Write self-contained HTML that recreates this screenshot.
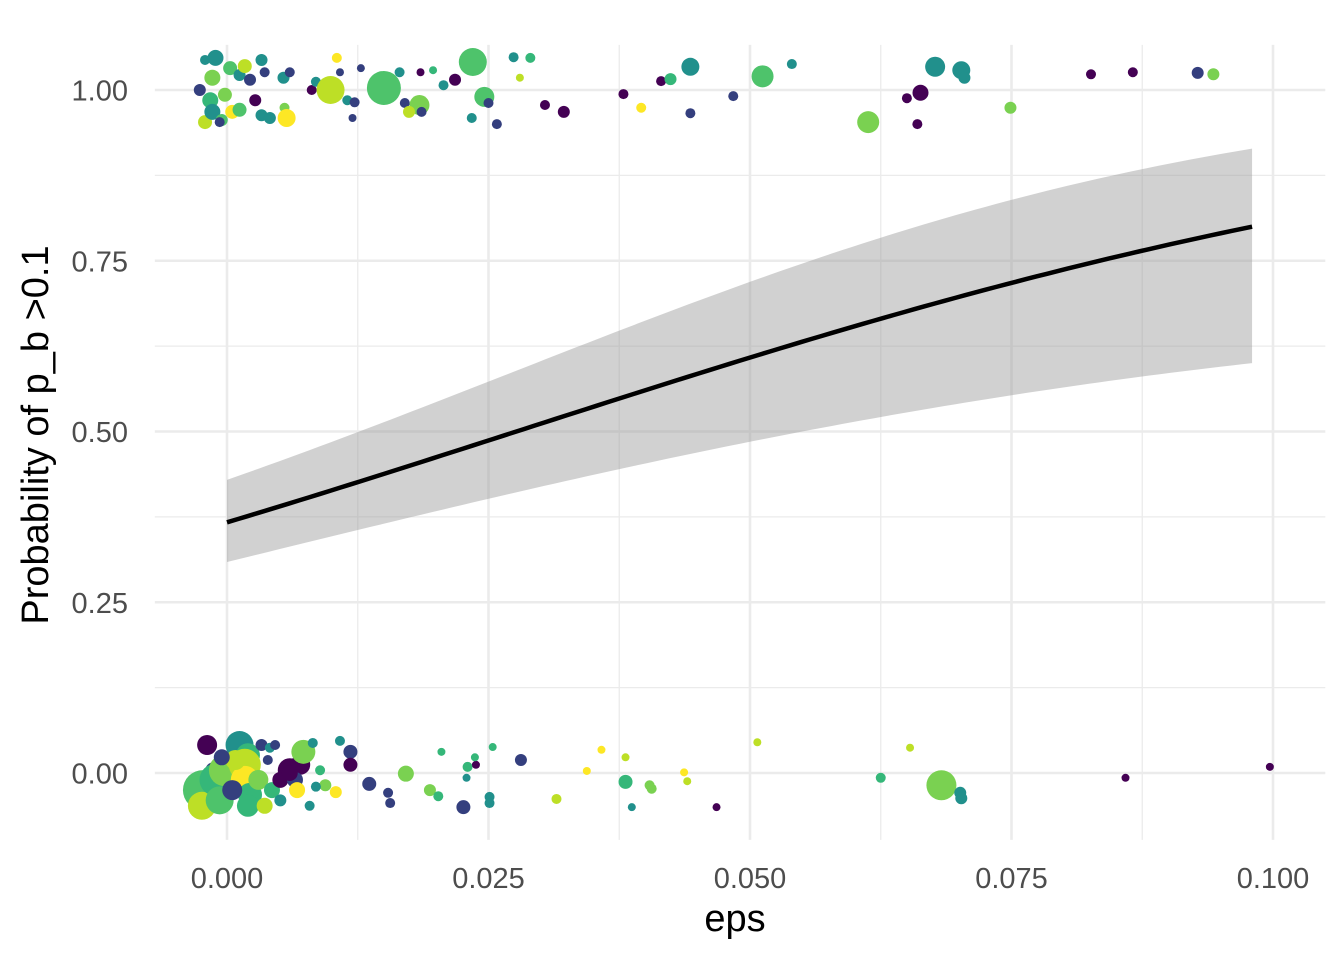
<!DOCTYPE html>
<html><head><meta charset="utf-8"><style>
html,body{margin:0;padding:0;background:#fff;}
svg{display:block;font-family:"Liberation Sans",Arial,sans-serif;}
</style></head><body>
<svg id="chart" width="1344" height="960"></svg>
<script>
const xTicks=[0,0.025,0.05,0.075,0.1];
const xTickLabels=["0.000","0.025","0.050","0.075","0.100"];
const yTicks=[0,0.25,0.5,0.75,1];
const yTickLabels=["0.00","0.25","0.50","0.75","1.00"];
const fitIntercept=-0.545, fitSlope=19.7, bandBase=0.26, bandLin=2.15, bandQuad=53, fitMax=0.098;
const topEps=[-0.0026,-0.0021,-0.0011,-0.0014,-0.0016,-0.0021,-0.0014,-0.0005,-0.0002,0.0003,0.0012,0.0017,0.0022,0.0005,0.0012,-0.0007,0.0027,0.0033,0.0036,0.0033,0.0041,0.0055,0.0057,0.0054,0.0060,0.0081,0.0085,0.0099,0.0105,0.0108,0.0115,0.0120,0.0122,0.0128,0.0150,0.0165,0.0170,0.0185,0.0184,0.0174,0.0186,0.0197,0.0207,0.0218,0.0235,0.0234,0.0246,0.0250,0.0258,0.0274,0.0280,0.0290,0.0304,0.0322,0.0379,0.0396,0.0415,0.0424,0.0443,0.0443,0.0484,0.0512,0.0540,0.0613,0.0663,0.0650,0.0660,0.0677,0.0702,0.0705,0.0749,0.0826,0.0866,0.0928,0.0943];
const topY=[1.000,1.044,1.047,1.018,0.985,0.953,0.968,0.956,0.993,1.032,1.022,1.035,1.015,0.968,0.971,0.953,0.985,1.044,1.026,0.963,0.959,0.974,0.959,1.018,1.026,1.000,1.012,1.000,1.047,1.026,0.985,0.959,0.982,1.032,1.003,1.026,0.981,1.026,0.978,0.968,0.968,1.029,1.007,1.015,1.041,0.959,0.990,0.981,0.950,1.048,1.018,1.047,0.978,0.968,0.994,0.974,1.013,1.016,1.034,0.966,0.991,1.020,1.038,0.953,0.996,0.988,0.950,1.034,1.029,1.018,0.974,1.023,1.026,1.025,1.023];
const topSize=[6,5,8,8,8,7,8,6,7,7,6,7,6,7,7,5,6,6,5,6,6,5,9,6,5,5,5,14,5,4,5,4,5,4,17,5,5,4,10,6,5,4,5,6,14,5,10,5,5,5,4,5,5,6,5,5,5,6,9,5,5,11,5,11,8,5,5,10,9,6,6,5,5,6,6];
const topGroup=[1,2,2,5,3,6,2,4,5,4,2,6,1,7,4,1,0,2,1,2,2,5,7,2,1,0,2,6,7,1,2,1,1,1,4,2,1,0,5,6,1,3,2,0,4,2,4,1,1,2,6,3,0,0,0,7,0,3,2,1,1,4,2,5,0,0,0,2,2,2,5,0,0,1,5];
const botEps=[-0.0019,-0.0013,-0.0023,-0.0024,-0.0011,-0.0002,-0.0007,0.0012,0.0020,0.0017,0.0017,0.0022,0.0008,-0.0005,0.0005,0.0020,0.0033,0.0041,0.0039,0.0046,0.0030,0.0043,0.0036,0.0051,0.0060,0.0070,0.0065,0.0073,0.0067,0.0051,0.0079,0.0060,0.0089,0.0094,0.0104,0.0085,0.0082,0.0108,0.0118,0.0118,0.0136,0.0154,0.0156,0.0171,0.0194,0.0202,0.0205,0.0226,0.0230,0.0229,0.0238,0.0237,0.0251,0.0251,0.0254,0.0281,0.0315,0.0344,0.0358,0.0381,0.0381,0.0387,0.0404,0.0406,0.0437,0.0440,0.0468,0.0507,0.0625,0.0653,0.0683,0.0701,0.0702,0.0859,0.0997];
const botY=[0.041,0.004,-0.025,-0.048,-0.010,0.004,-0.040,0.041,0.026,0.012,-0.010,-0.032,0.019,0.023,-0.025,-0.048,0.041,0.037,0.019,0.041,-0.010,-0.025,-0.048,-0.010,0.004,0.012,-0.010,0.031,-0.025,-0.040,-0.048,0,0.004,-0.018,-0.028,-0.020,0.044,0.047,0.031,0.012,-0.016,-0.029,-0.044,-0.001,-0.025,-0.034,0.031,-0.050,0.009,-0.007,0.012,0.023,-0.035,-0.044,0.038,0.019,-0.038,0.003,0.034,0.023,-0.013,-0.050,-0.018,-0.023,0.001,-0.012,-0.050,0.045,-0.007,0.037,-0.018,-0.029,-0.037,-0.007,0.009];
const botSize=[10,8,20,14,16,16,14,14,12,16,14,12,10,8,10,11,6,5,5,5,10,8,8,8,12,10,8,12,8,6,5,8,5,6,6,5,5,5,7,7,7,5,5,8,6,5,4,7,5,4,4,4,5,5,4,6,5,4,4,4,7,4,5,5,4,4,4,4,5,4,15,6,6,4,4];
const botGroup=[0,1,4,6,3,5,4,2,3,6,7,3,6,1,1,3,1,2,1,1,5,3,6,0,0,0,1,5,7,2,2,0,3,5,7,2,2,2,1,0,1,1,1,5,5,3,3,1,3,2,0,3,2,2,3,1,6,7,7,6,3,2,5,5,7,6,0,6,3,6,5,2,2,0,0];
const palette=["#440154","#343f7e","#21908c","#35b779","#4ec36b","#7ad151","#bddf26","#fde725"];

const NS="http://www.w3.org/2000/svg";
const svg=document.getElementById('chart');
const X=v=>227+v*10460;
const Y=v=>773-v*683;
function mk(tag,attrs,parent){const e=document.createElementNS(NS,tag);for(const k in attrs)e.setAttribute(k,attrs[k]);(parent||svg).appendChild(e);return e;}
const L=-0.0069,R=0.105,B=-0.098,T=1.066;
const gMinor=mk('g',{});


for(let i=0;i<xTicks.length-1;i++){const v=(xTicks[i]+xTicks[i+1])/2;mk('line',{x1:X(v),x2:X(v),y1:Y(T),y2:Y(B),stroke:'#ebebeb','stroke-width':1.3},gMinor);}
for(let i=0;i<yTicks.length-1;i++){const v=(yTicks[i]+yTicks[i+1])/2;mk('line',{x1:X(L),x2:X(R),y1:Y(v),y2:Y(v),stroke:'#ebebeb','stroke-width':1.3},gMinor);}
const gMajor=mk('g',{});


xTicks.forEach((v,i)=>{mk('line',{x1:X(v),x2:X(v),y1:Y(T),y2:Y(B),stroke:'#ebebeb','stroke-width':2.6},gMajor);
 const t=mk('text',{x:X(v),y:888,'text-anchor':'middle','font-size':29,fill:'#4d4d4d'});t.textContent=xTickLabels[i];
 
 });
yTicks.forEach((v,i)=>{mk('line',{x1:X(L),x2:X(R),y1:Y(v),y2:Y(v),stroke:'#ebebeb','stroke-width':2.6},gMajor);
 const t=mk('text',{x:128,y:Y(v)+10.5,'text-anchor':'end','font-size':29,fill:'#4d4d4d'});t.textContent=yTickLabels[i];
 
 });
const gPts=mk('g',{});


function drawPts(ex,ey,sz,gr){for(let i=0;i<Math.min(ex.length,ey.length,sz.length,gr.length);i++){
 const c=mk('circle',{cx:X(ex[i]),cy:Y(ey[i]),r:sz[i],fill:palette[gr[i]]},gPts);
 
 }}
drawPts(topEps,topY,topSize,topGroup);
drawPts(botEps,botY,botSize,botGroup);
const inv=z=>1/(1+Math.exp(-z));
let up=[],lo=[],mid=[];
for(let i=0;i<=100;i++){const x=fitMax*i/100;const z=fitIntercept+fitSlope*x;const h=bandBase+bandLin*x+bandQuad*x*x;
 mid.push(X(x)+','+Y(inv(z)));up.push(X(x)+','+Y(inv(z+h)));lo.push(X(x)+','+Y(inv(z-h)));}
const band=mk('polygon',{points:up.concat(lo.reverse()).join(' '),fill:'#999999','fill-opacity':0.45});


const fit=mk('polyline',{points:mid.join(' '),fill:'none',stroke:'#000','stroke-width':4.5});


const xt=mk('text',{x:735,y:931,'text-anchor':'middle','font-size':38,fill:'#000'});xt.textContent='eps';


const yt=mk('text',{x:0,y:0,'text-anchor':'middle','font-size':38,fill:'#000',transform:'translate(48,435) rotate(-90)'});yt.textContent='Probability of p_b >0.1';


</script>
</body></html>
